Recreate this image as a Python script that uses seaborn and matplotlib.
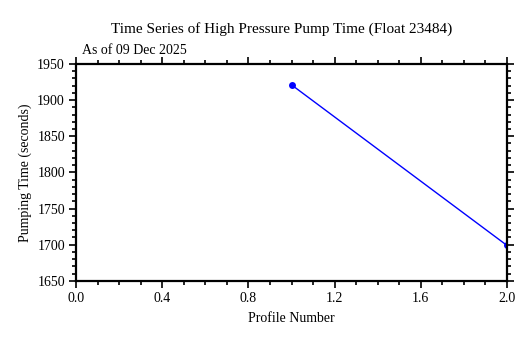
import matplotlib
matplotlib.use("Agg")
import matplotlib.pyplot as plt
import seaborn as sns
import pandas as pd
from matplotlib.ticker import MultipleLocator

profile_number = [1, 2]
pumping_time = [1921, 1699]
title = "Time Series of High Pressure Pump Time (Float 23484)"
subtitle = "As of 09 Dec 2025"
x_label = "Profile Number"
y_label = "Pumping Time (seconds)"

sns.set_theme(style="white")
plt.rcParams['font.family'] = ['Liberation Serif', 'DejaVu Serif']

df = pd.DataFrame({"profile": profile_number, "time": pumping_time})

fig = plt.figure(figsize=(5.32, 3.38), dpi=100)
ax = fig.add_axes([0.143, 0.169, 0.810, 0.642])
sns.lineplot(data=df, x="profile", y="time", ax=ax, color="#0000ff",
             linewidth=1.0, marker="o", markersize=5, markeredgewidth=0)

ax.set_xlim(0, 2)
ax.set_ylim(1650, 1950)
ax.xaxis.set_major_locator(MultipleLocator(0.4))
ax.xaxis.set_minor_locator(MultipleLocator(0.1))
ax.yaxis.set_major_locator(MultipleLocator(50))
ax.yaxis.set_minor_locator(MultipleLocator(10))
ax.xaxis.set_major_formatter(matplotlib.ticker.FormatStrFormatter('%.1f'))

ax.tick_params(which='both', direction='out', top=True, right=True,
               bottom=True, left=True, color='black', width=1.2)
ax.tick_params(which='major', length=5, labelsize=10, pad=3,
               labelcolor='black')
ax.tick_params(which='minor', length=3)
for s in ax.spines.values():
    s.set_color('black')
    s.set_linewidth(1.6)

ax.set_xlabel(x_label, fontsize=10, color='black', labelpad=5)
ax.set_ylabel(y_label, fontsize=10, color='black', labelpad=4)
fig.text(0.53, 0.915, title, ha='center', va='center', fontsize=11, color='black')
fig.text(0.154, 0.852, subtitle, ha='left', va='center', fontsize=10, color='black')

fig.savefig("out.png", dpi=100)
